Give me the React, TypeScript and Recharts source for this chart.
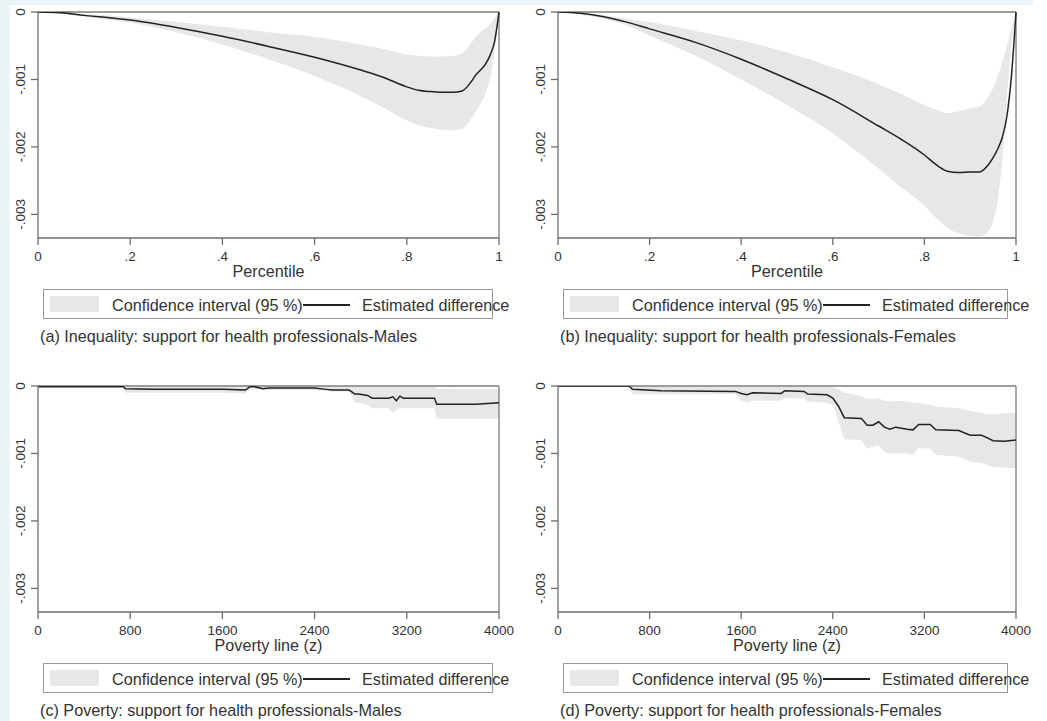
import React from 'react';
import { ComposedChart, Area, Line, XAxis, YAxis, ReferenceLine } from 'recharts';

// percentile grid shared by the two inequality panels
const PCT_X = [0, 0.05, 0.1, 0.15, 0.2, 0.3, 0.4, 0.5, 0.6, 0.7, 0.75, 0.8, 0.825, 0.85, 0.875, 0.9, 0.92, 0.94, 0.95, 0.96, 0.97, 0.98, 0.99, 1];

const A_EST = [0, -0.00001, -0.00005, -0.00008, -0.00012, -0.00023, -0.00036, -0.00051, -0.00067, -0.00086, -0.00097, -0.00111, -0.00116, -0.00118, -0.00119, -0.00119, -0.00117, -0.00103, -0.00093, -0.00086, -0.00078, -0.00065, -0.00045, 0];
const A_HI = [0, -0.00001, -0.00003, -0.00005, -0.00008, -0.00015, -0.00022, -0.0003, -0.00037, -0.00048, -0.00055, -0.00063, -0.00065, -0.00066, -0.00066, -0.00065, -0.00061, -0.00046, -0.00036, -0.0003, -0.00025, -0.00019, -0.00009, 0];
const A_LO = [0, -0.00003, -0.00007, -0.00011, -0.00016, -0.0003, -0.00048, -0.0007, -0.00095, -0.00125, -0.00142, -0.00161, -0.00168, -0.00172, -0.00174, -0.00175, -0.00173, -0.00158, -0.00147, -0.00136, -0.00122, -0.001, -0.00061, 0];

const B_EST = [0, -0.00002, -0.00007, -0.00015, -0.00025, -0.00045, -0.0007, -0.00099, -0.0013, -0.00169, -0.00189, -0.00212, -0.00226, -0.00236, -0.00238, -0.00237, -0.00237, -0.00226, -0.00216, -0.00203, -0.00186, -0.00155, -0.00095, 0];
const B_HI = [0, -0.00002, -0.00005, -0.0001, -0.00015, -0.00028, -0.00042, -0.0006, -0.00082, -0.00107, -0.00122, -0.00138, -0.00145, -0.0015, -0.00147, -0.00143, -0.0014, -0.00125, -0.00113, -0.00095, -0.00075, -0.0005, -0.00025, 0];
const B_LO = [0, -0.00004, -0.0001, -0.0002, -0.00035, -0.00065, -0.001, -0.00138, -0.0018, -0.00232, -0.0026, -0.00287, -0.00305, -0.0032, -0.00328, -0.00332, -0.00333, -0.00325, -0.0031, -0.0028, -0.0022, -0.0013, -0.0005, 0];

// poverty line panels
const C_X = [0, 740, 760, 1000, 1600, 1800, 1840, 1880, 1950, 2000, 2400, 2500, 2550, 2700, 2750, 2780, 2860, 2900, 3040, 3080, 3110, 3140, 3170, 3200, 3440, 3460, 3800, 4000];
const C_EST = [-0.00001, -0.00001, -0.00004, -0.00005, -0.00005, -0.00006, -0.00001, -0.00001, -0.00004, -0.00003, -0.00003, -0.00005, -0.00006, -0.00006, -0.00012, -0.00012, -0.00014, -0.00018, -0.00018, -0.00016, -0.00022, -0.00015, -0.00018, -0.00018, -0.00018, -0.00027, -0.00027, -0.00025];
const C_HI = [0, 0, 0, 0, 0, 0, 0, 0, 0, 0, 0, 0, 0, 0, -0.00001, -0.00001, -0.00001, -0.00001, -0.00001, -0.00001, -0.00001, -0.00001, -0.00001, -0.00001, -0.00001, -0.00004, -0.00005, -0.00005];
const C_LO = [-0.00002, -0.00002, -0.0001, -0.0001, -0.0001, -0.00011, -0.00004, -0.00004, -0.00006, -0.00006, -0.00006, -0.00007, -0.00008, -0.00008, -0.00025, -0.00025, -0.00028, -0.00033, -0.00033, -0.0004, -0.00035, -0.00033, -0.00033, -0.00033, -0.00033, -0.00048, -0.00048, -0.00048];

const D_X = [0, 620, 650, 900, 1550, 1600, 1650, 1700, 1950, 1980, 2150, 2180, 2350, 2400, 2450, 2500, 2650, 2700, 2750, 2800, 2850, 2900, 2950, 3050, 3100, 3150, 3250, 3300, 3500, 3600, 3700, 3750, 3800, 3900, 4000];
const D_EST = [0, 0, -0.00005, -0.00007, -0.00008, -0.00011, -0.00013, -0.0001, -0.00011, -0.00007, -0.00008, -0.00012, -0.00013, -0.00018, -0.0003, -0.00047, -0.00048, -0.00058, -0.00058, -0.00053, -0.00061, -0.00064, -0.00061, -0.00064, -0.00065, -0.00057, -0.00057, -0.00065, -0.00066, -0.00073, -0.00073, -0.00077, -0.00081, -0.00082, -0.0008];
const D_HI = [0, 0, 0, 0, 0, 0, 0, 0, 0, 0, 0, 0, 0, -0.00002, -0.00005, -0.0001, -0.00015, -0.00019, -0.0002, -0.00018, -0.00022, -0.00023, -0.00022, -0.00023, -0.00025, -0.00025, -0.00028, -0.0003, -0.00033, -0.00037, -0.0004, -0.00042, -0.00042, -0.0004, -0.0004];
const D_LO = [-0.00001, -0.00001, -0.00012, -0.00012, -0.00012, -0.00022, -0.00024, -0.00022, -0.00022, -0.00018, -0.00018, -0.00023, -0.00025, -0.00028, -0.00052, -0.00079, -0.0008, -0.00093, -0.0009, -0.00088, -0.00098, -0.001, -0.001, -0.001, -0.00102, -0.00092, -0.00093, -0.00102, -0.00105, -0.00112, -0.00114, -0.00117, -0.0012, -0.00121, -0.00122];

const PCT_TICKS = [0, 0.2, 0.4, 0.6, 0.8, 1];
const POV_TICKS = [0, 800, 1600, 2400, 3200, 4000];
const Y_TICKS = [0, -0.001, -0.002, -0.003];

const FONT = '"Liberation Sans", Arial, Helvetica, sans-serif';
const BAND = '#e6e7e9';
const AXIS = '#6e6e6e';
const TEXT = '#333';
const TICK_SIZE = 13.5;

const rows = (xs: number[], est: number[], lo: number[], hi: number[]) =>
  xs.map((x, i) => ({ x, est: est[i], band: [lo[i], hi[i]] }));

const fmtPct = (v: number) => (v === 0 ? '0' : v === 1 ? '1' : String(v).replace(/^0/, ''));
const fmtY = (v: number) => (v === 0 ? '0' : '-' + String(Math.abs(v)).replace(/^0/, ''));

const YTick = ({ y, payload }: any) => (
  <text
    transform={`translate(25,${y}) rotate(-90)`}
    textAnchor="middle"
    fontSize={TICK_SIZE}
    fill={TEXT}
    fontFamily={FONT}
  >
    {fmtY(payload.value)}
  </text>
);

function LegendBox({ left, top, width }: { left: number; top: number; width: number }) {
  return (
    <div
      style={{
        position: 'absolute', left, top, width, height: 30,
        border: '1px solid #999', boxSizing: 'border-box',
        fontFamily: FONT, fontSize: 16.2, color: TEXT, whiteSpace: 'nowrap',
      }}
    >
      <div style={{ position: 'absolute', left: 6, top: 6, width: 49, height: 16, background: BAND }} />
      <span style={{ position: 'absolute', left: 68, top: 1, lineHeight: '28px' }}>Confidence interval (95 %)</span>
      <div style={{ position: 'absolute', left: 259, top: 14, width: 47, height: 1.5, background: '#222' }} />
      <span style={{ position: 'absolute', left: 318, top: 1, lineHeight: '28px' }}>Estimated difference</span>
    </div>
  );
}

interface PanelProps {
  left: number;
  top: number;
  rightMargin: number;
  data: { x: number; est: number; band: number[] }[];
  xTicks: number[];
  xLabel: string;
  smooth: boolean;
  legendWidth: number;
  caption: string;
}

function Panel({ left, top, rightMargin, data, xTicks, xLabel, smooth, legendWidth, caption }: PanelProps) {
  const xMax = xTicks[xTicks.length - 1];
  return (
    <>
      <div style={{ position: 'absolute', left, top }}>
        <ComposedChart
          width={520}
          height={290}
          data={data}
          margin={{ top: 12, right: rightMargin, left: 8, bottom: 12 }}
        >
          <XAxis
            dataKey="x"
            type="number"
            domain={[0, xMax]}
            ticks={xTicks}
            interval={0}
            tickFormatter={smooth ? fmtPct : (v: number) => String(v)}
            tickSize={7}
            tickMargin={6}
            height={40}
            stroke={AXIS}
            strokeWidth={1.3}
            tick={{ fill: TEXT, fontSize: TICK_SIZE, fontFamily: FONT }}
            label={{ value: xLabel, position: 'insideBottom', offset: 1, fill: TEXT, fontSize: 16.2, fontFamily: FONT }}
          />
          <YAxis
            type="number"
            domain={[-0.00335, 0]}
            allowDataOverflow
            ticks={Y_TICKS}
            interval={0}
            width={30}
            tickSize={7}
            stroke={AXIS}
            strokeWidth={1.3}
            tick={<YTick />}
          />
          <Area
            dataKey="band"
            type={smooth ? 'monotone' : 'linear'}
            fill={BAND}
            fillOpacity={1}
            stroke="none"
            isAnimationActive={false}
          />
          <ReferenceLine y={0} stroke="#9c9c9c" strokeWidth={2} />
          <ReferenceLine x={xMax} stroke="#8c8c8c" strokeWidth={1.5} />
          <Line
            dataKey="est"
            type={smooth ? 'monotone' : 'linear'}
            stroke="#222"
            strokeWidth={1.5}
            dot={false}
            isAnimationActive={false}
          />
        </ComposedChart>
      </div>
      <LegendBox left={left + 43} top={top + 289} width={legendWidth} />
      <div
        style={{
          position: 'absolute', left: left + 40, top: top + 325, lineHeight: '22px',
          fontFamily: FONT, fontSize: 16.2, color: TEXT, whiteSpace: 'nowrap',
        }}
      >
        {caption}
      </div>
    </>
  );
}

export default function App() {
  return (
    <div style={{ position: 'absolute', left: 0, top: 0, width: 1047, height: 721, background: '#fff', overflow: 'hidden' }}>
      <div style={{ position: 'absolute', left: 0, top: 0, width: 10, height: 721, background: '#eaf3f6' }} />
      <div style={{ position: 'absolute', left: 0, top: 0, width: 1033, height: 5, background: '#eaf3f6' }} />
      <Panel
        left={0} top={0} rightMargin={21}
        data={rows(PCT_X, A_EST, A_LO, A_HI)}
        xTicks={PCT_TICKS} xLabel="Percentile" smooth legendWidth={450}
        caption="(a) Inequality: support for health professionals-Males"
      />
      <Panel
        left={520} top={0} rightMargin={24}
        data={rows(PCT_X, B_EST, B_LO, B_HI)}
        xTicks={PCT_TICKS} xLabel="Percentile" smooth legendWidth={445}
        caption="(b) Inequality: support for health professionals-Females"
      />
      <Panel
        left={0} top={374} rightMargin={21}
        data={rows(C_X, C_EST, C_LO, C_HI)}
        xTicks={POV_TICKS} xLabel="Poverty line (z)" smooth={false} legendWidth={450}
        caption="(c) Poverty: support for health professionals-Males"
      />
      <Panel
        left={520} top={374} rightMargin={24}
        data={rows(D_X, D_EST, D_LO, D_HI)}
        xTicks={POV_TICKS} xLabel="Poverty line (z)" smooth={false} legendWidth={445}
        caption="(d) Poverty: support for health professionals-Females"
      />
    </div>
  );
}
